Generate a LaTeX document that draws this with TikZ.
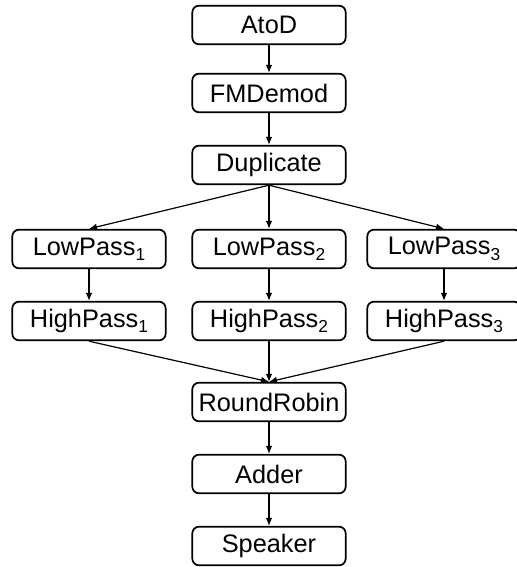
\documentclass[tikz,border=0pt]{standalone}
\usepackage{fontspec}
\setmainfont{Liberation Sans}
\usetikzlibrary{arrows.meta}
\newcommand{\stagesub}[1]{\raisebox{-0.4ex}{\fontsize{13}{13}\selectfont #1}}

\begin{document}
\begin{tikzpicture}[x=0.75pt,y=-0.75pt,
    block/.style={draw,line width=1.3pt,rounded corners=5pt,minimum width=115pt,minimum height=29pt,inner sep=0pt,font=\fontsize{19}{21}\selectfont},
    flow/.style={-{Latex[length=6pt,width=5pt]},line width=0.9pt}]
    \useasboundingbox (0,0) rectangle (517,567);
    \clip (0,0) rectangle (517,567);
    \node[block] (atod) at (269,25) {AtoD};
    \node[block] (fmdemod) at (269,93) {FMDemod};
    \node[block] (duplicate) at (269,165) {Duplicate};
    \node[block] (rr) at (269,402) {RoundRobin};
    \node[block] (adder) at (269,474) {Adder};
    \node[block] (speaker) at (269,546) {Speaker};
    \draw[flow] (atod) -- (fmdemod);
    \draw[flow] (fmdemod) -- (duplicate);
    \foreach \i/\x in {1/89,2/269,3/444} {
        \node[block] (low\i) at (\x,249) {LowPass\stagesub{\i}};
        \node[block] (high\i) at (\x,321) {HighPass\stagesub{\i}};
        \draw[flow] (duplicate.south) -- (low\i.north);
        \draw[flow] (low\i) -- (high\i);
        \draw[flow] (high\i.south) -- (rr.north);
    }
    \draw[flow] (rr) -- (adder);
    \draw[flow] (adder) -- (speaker);
\end{tikzpicture}
\end{document}
